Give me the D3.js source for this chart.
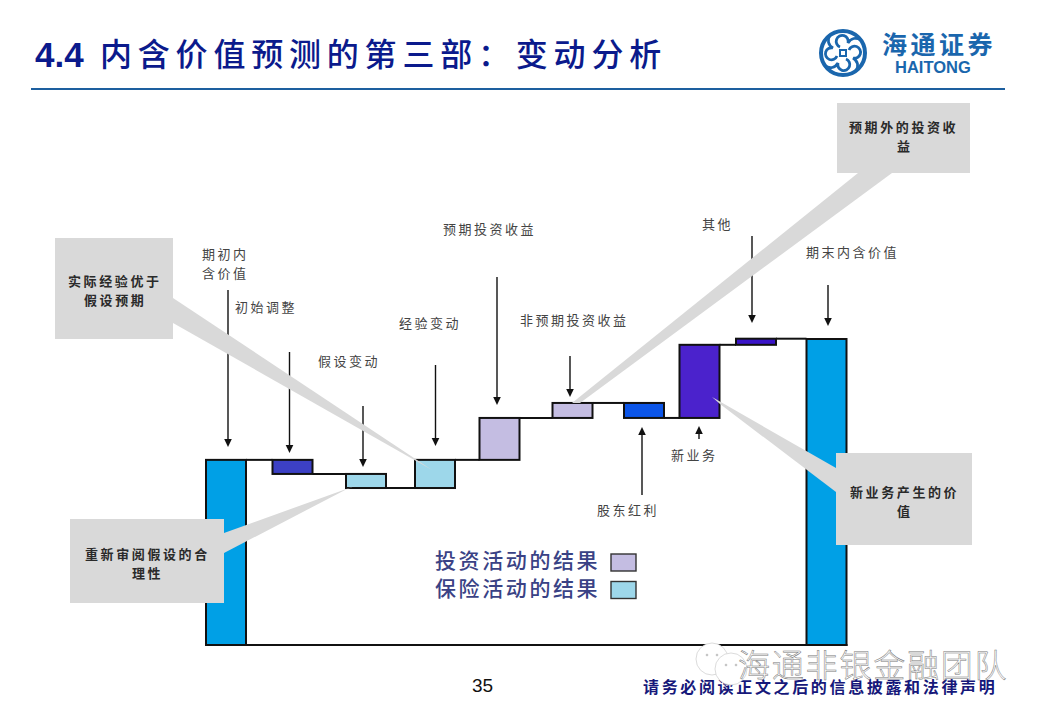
<!DOCTYPE html>
<html>
<head>
<meta charset="utf-8">
<script src="https://cdn.jsdelivr.net/npm/d3@7"></script>
<style>
  html, body { margin: 0; background: #fff; }
  text { font-family: "Noto Sans CJK SC", "Liberation Sans", sans-serif; }
</style>
</head>
<body>
<div id="chart"></div>
<script>
// ---- Data (closing value = 100)
const categories = ['期初内含价值', '初始调整', '假设变动', '经验变动', '预期投资收益', '非预期投资收益', '股东红利', '新业务', '其他', '期末内含价值'];
const deltas = [60.5, -4.6, -4.6, 9.2, 13.7, 4.9, -4.9, 23.9, 2, 100];
const legendLabels = ['投资活动的结果', '保险活动的结果'];
const calloutLabels = [['实际经验优于', '假设预期'], ['重新审阅假设的合', '理性'], ['预期外的投资收', '益'], ['新业务产生的价', '值']];
const barLabels = [['期初内', '含价值'], ['初始调整'], ['假设变动'], ['经验变动'], ['预期投资收益'], ['非预期投资收益'], ['股东红利'], ['新业务'], ['其他'], ['期末内含价值']];

const width = 1040, height = 720;
const svg = d3.select('#chart').append('svg')
    .attr('width', width).attr('height', height)
    .style('display', 'block');

// ---- Scales
const y = d3.scaleLinear().domain([0, 100]).range([645, 339]);
// the bars are not evenly spaced on the slide
const x = d3.scaleOrdinal().domain(categories)
    .range([206, 272.5, 346, 415, 479.5, 552.5, 624, 679.5, 736, 806.5]);
const barWidth = 40;
const fill = d3.scaleOrdinal().domain(categories)
    .range(['#00a0e6', '#3c40c4', '#9dd7ea', '#9dd7ea', '#c4bde2', '#c4bde2', '#0b55e8', '#4b22cc', '#3a14c8', '#00a0e6']);

// ---- Running waterfall levels
let level = 0;
const bars = categories.map((name, i) => {
    const isTotal = i === categories.length - 1;
    const from = isTotal ? 0 : level;
    const to = isTotal ? deltas[i] : level + deltas[i];
    level = to;
    return { name, from, to };
});

// ---- Title and header
svg.append('text').attr('x', 35).attr('y', 67)
    .style('font-family', '"Liberation Sans"').style('font-weight', 700).style('font-size', '35px')
    .attr('fill', '#0b1a8c').text('4.4');
svg.append('text').attr('x', 100).attr('y', 66)
    .style('font-size', '32px').style('font-weight', 500).style('letter-spacing', '5.8px')
    .attr('fill', '#0b1a8c').text('内含价值预测的第三部：变动分析');
svg.append('rect').attr('x', 31).attr('y', 88).attr('width', 974).attr('height', 2).attr('fill', '#1d5f9f');

// ---- Logo
const logo = svg.append('g').attr('transform', 'translate(843,53)')
    .attr('fill', 'none').attr('stroke', '#1a66ad');
logo.append('circle').attr('r', 22).attr('stroke-width', 4);
[0, 90, 180, 270].forEach(a => {
    logo.append('g').attr('transform', `rotate(${a})`)
        .append('path')
        .attr('d', 'M-3,-6 A6,6 0 1 1 5,-10 C8,-15 13,-16 18,-13')
        .attr('stroke-width', 2.8);
});
logo.append('rect').attr('x', -3).attr('y', -3).attr('width', 6).attr('height', 6).attr('stroke-width', 2);
svg.append('text').attr('x', 882).attr('y', 54)
    .style('font-size', '25px').style('font-weight', 700).style('letter-spacing', '3.5px')
    .attr('fill', '#1a66ad').text('海通证券');
svg.append('text').attr('x', 895).attr('y', 73)
    .style('font-family', '"Liberation Sans"').style('font-size', '16.5px').style('font-weight', 700)
    .attr('fill', '#1a66ad').text('HAITONG');

// ---- Baseline and connectors
const ink = '#111';
svg.append('line').attr('x1', x(categories[0])).attr('x2', x(categories[9]) + barWidth + 1)
    .attr('y1', y(0)).attr('y2', y(0)).attr('stroke', ink).attr('stroke-width', 2);
svg.selectAll('.connector').data(bars.slice(0, -1)).join('line')
    .attr('class', 'connector')
    .attr('x1', d => x(d.name) + barWidth)
    .attr('x2', (d, i) => x(categories[i + 1]))
    .attr('y1', d => y(d.to)).attr('y2', d => y(d.to))
    .attr('stroke', ink).attr('stroke-width', 2);

// ---- Bars
svg.selectAll('.bar').data(bars).join('rect')
    .attr('class', 'bar')
    .attr('x', d => x(d.name))
    .attr('y', d => y(Math.max(d.from, d.to)))
    .attr('width', barWidth)
    .attr('height', d => Math.abs(y(d.from) - y(d.to)))
    .attr('fill', d => fill(d.name))
    .attr('stroke', ink).attr('stroke-width', 2);

// ---- Arrows: [x, tail y, tip y]
const arrowLayout = [[228, 290, 447], [289.5, 352, 453], [363, 406, 467], [435.5, 365, 446], [497, 277, 405],
    [570, 356, 397], [642, 495, 427], [699, 439, 426], [752, 236, 323], [828, 285, 326]];
arrowLayout.forEach(([ax, tail, tip]) => {
    const dir = tip > tail ? 1 : -1;
    svg.append('line').attr('x1', ax).attr('x2', ax).attr('y1', tail).attr('y2', tip - dir * 6)
        .attr('stroke', ink).attr('stroke-width', 1.4);
    svg.append('path').attr('d', `M${ax - 3.8},${tip - dir * 8}L${ax + 3.8},${tip - dir * 8}L${ax},${tip}Z`).attr('fill', ink);
});

// ---- Bar labels: [left, first baseline]
const labelLayout = [[202, 259], [235, 312], [318, 366], [399, 328], [443, 234], [520, 325], [597, 515], [671, 460], [702, 229], [806, 257]];
barLabels.forEach((lines, i) => {
    lines.forEach((t, j) => {
        svg.append('text').attr('x', labelLayout[i][0]).attr('y', labelLayout[i][1] + j * 19)
            .style('font-size', '13px').style('letter-spacing', '2.5px')
            .attr('fill', '#444').text(t);
    });
});

// ---- Legend
const legendFill = ['#c4bde2', '#9dd7ea'];
legendLabels.forEach((t, i) => {
    svg.append('text').attr('x', 435).attr('y', 568 + i * 28)
        .style('font-size', '21px').style('font-weight', 500).style('letter-spacing', '2.6px')
        .attr('fill', '#3a4285').text(t);
    svg.append('rect').attr('x', 611).attr('y', 554 + i * 27.5).attr('width', 25).attr('height', 17)
        .attr('fill', legendFill[i]).attr('stroke', '#333').attr('stroke-width', 1.4);
});

// ---- Callouts sit above the bars and arrows
const calloutLayout = [
    { box: [55, 238, 118, 101], wedge: [[173, 298], [173, 323], [432, 470], [417, 460]], text: [68, 286, 84] },
    { box: [70, 519, 154, 84], wedge: [[224, 533], [224, 553], [347, 489], [363, 483]], text: [85, 559, 132] },
    { box: [837, 103, 133, 70], wedge: [[858, 173], [892, 173], [580, 403], [572, 403]], text: [849, 132, 897] },
    { box: [836, 453, 136, 92], wedge: [[836, 468], [836, 492], [720, 404], [712, 397]], text: [850, 497, 897] }
];
const gray = '#d9d9d9';
calloutLayout.forEach((c, i) => {
    svg.append('polygon').attr('points', c.wedge.map(p => p.join(',')).join(' ')).attr('fill', gray);
    svg.append('rect').attr('x', c.box[0]).attr('y', c.box[1]).attr('width', c.box[2]).attr('height', c.box[3]).attr('fill', gray);
    calloutLabels[i].forEach((t, j) => {
        svg.append('text').attr('x', j ? c.text[2] : c.text[0]).attr('y', c.text[1] + j * 18.5)
            .style('font-size', '13px').style('font-weight', 700).style('letter-spacing', '2.6px')
            .attr('fill', '#2a2a2a').text(t);
    });
});

// ---- Footer
svg.append('text').attr('x', 472).attr('y', 692)
    .style('font-family', '"Liberation Sans"').style('font-size', '19px').attr('fill', '#111').text('35');
svg.append('text').attr('x', 643).attr('y', 693)
    .style('font-size', '16px').style('font-weight', 700).style('letter-spacing', '2.65px')
    .attr('fill', '#16187a').text('请务必阅读正文之后的信息披露和法律声明');

// ---- Watermark
const mark = svg.append('g').attr('fill', '#fff').attr('stroke', '#ccc').attr('stroke-width', 0.7);
[[712, 659, 16], [731, 669, 16]].forEach(([cx, cy, r]) => {
    mark.append('circle').attr('cx', cx).attr('cy', cy).attr('r', r);
    mark.append('circle').attr('cx', cx - 5).attr('cy', cy - 4).attr('r', 1).attr('fill', '#aaa');
    mark.append('circle').attr('cx', cx + 5).attr('cy', cy - 4).attr('r', 1).attr('fill', '#aaa');
});
svg.append('text').attr('x', 738).attr('y', 677)
    .style('font-size', '32px').style('letter-spacing', '1.8px').style('font-weight', 300)
    .attr('fill', '#fff').attr('stroke', '#777').attr('stroke-width', 0.5)
    .text('海通非银金融团队');
</script>
</body>
</html>
